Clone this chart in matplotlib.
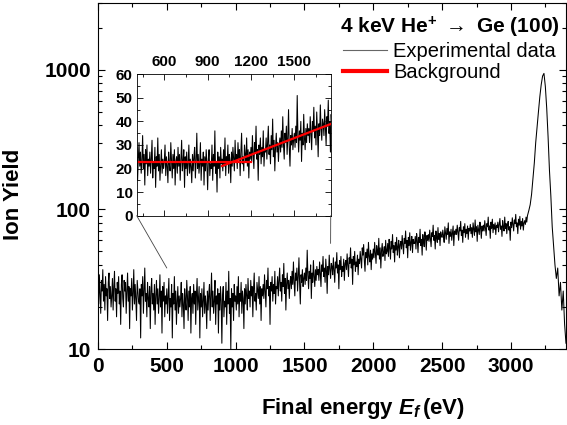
import numpy as np
import matplotlib
matplotlib.use('Agg')
import matplotlib.pyplot as plt
from matplotlib.ticker import MultipleLocator, FixedLocator, NullFormatter, FuncFormatter, LogLocator
from matplotlib.lines import Line2D
from matplotlib.patches import ConnectionPatch

plt.rcParams['font.family'] = ['Liberation Sans', 'DejaVu Sans']
plt.rcParams['font.weight'] = 'bold'
plt.rcParams['axes.labelweight'] = 'bold'
plt.rcParams['mathtext.fontset'] = 'custom'
plt.rcParams['mathtext.rm'] = 'Liberation Sans:bold'
plt.rcParams['mathtext.bf'] = 'Liberation Sans:bold'
plt.rcParams['mathtext.it'] = 'Liberation Sans:italic:bold'

# ── Data ──────────────────────────────────────────────────────────────────────
# flat/rising part, 5 eV steps from 0 to 3120 eV (one row = 100 eV)
noise_energy = np.arange(0, 3125, 5)
noise_counts = [
    28, 21, 34, 25, 18, 31, 26, 37, 22, 29, 19, 33, 24, 27, 16, 30, 35, 23, 28, 20,
    24, 32, 19, 28, 36, 22, 27, 17, 30, 25, 33, 21, 26, 15, 29, 34, 23, 20, 31, 26,
    30, 18, 26, 35, 22, 28, 14, 27, 24, 32, 19, 25, 37, 21, 29, 23, 16, 31, 26, 22,
    21, 27, 12, 29, 24, 33, 18, 26, 38, 22, 25, 17, 30, 23, 20, 28, 14, 26, 32, 21,
    25, 19, 29, 15, 24, 31, 21, 27, 18, 23, 34, 20, 26, 13, 28, 22, 30, 17, 24, 21,
    27, 18, 24, 32, 16, 23, 20, 29, 12, 25, 21, 33, 19, 26, 15, 22, 28, 18, 24, 20,
    23, 30, 17, 25, 21, 14, 27, 22, 19, 31, 24, 16, 26, 20, 28, 13, 23, 25, 18, 29,
    21, 26, 15, 24, 32, 19, 23, 28, 12, 25, 20, 27, 17, 22, 30, 18, 24, 21, 14, 26,
    19, 25, 29, 16, 23, 35, 20, 26, 18, 22, 31, 15, 24, 21, 27, 13, 25, 19, 28, 22,
    11, 24, 28, 17, 22, 20, 30, 15, 26, 21, 36, 18, 23, 10, 27, 20, 25, 16, 29, 22,
    24, 19, 28, 21, 33, 17, 25, 22, 30, 18, 26, 23, 14, 27, 21, 29, 24, 19, 32, 23,
    26, 20, 31, 24, 28, 17, 27, 35, 22, 25, 19, 30, 26, 23, 33, 21, 28, 16, 27, 24,
    29, 23, 34, 26, 20, 31, 27, 38, 24, 28, 15, 30, 26, 33, 22, 29, 25, 36, 21, 28,
    27, 33, 24, 31, 38, 26, 30, 22, 34, 28, 41, 25, 32, 19, 29, 35, 27, 31, 23, 30,
    33, 27, 36, 29, 42, 30, 24, 35, 31, 38, 26, 33, 45, 29, 21, 34, 30, 37, 28, 32,
    35, 29, 38, 31, 51, 34, 27, 36, 32, 40, 23, 35, 30, 43, 33, 28, 37, 31, 39, 34,
    37, 31, 42, 35, 28, 40, 36, 46, 33, 38, 30, 44, 36, 25, 39, 34, 47, 37, 32, 41,
    39, 34, 45, 37, 30, 42, 38, 49, 35, 40, 27, 43, 37, 46, 33, 39, 36, 44, 31, 41,
    43, 37, 48, 40, 33, 45, 41, 53, 38, 44, 29, 46, 40, 50, 36, 42, 39, 47, 34, 44,
    41, 50, 44, 38, 53, 47, 56, 43, 36, 49, 45, 52, 40, 58, 46, 42, 51, 37, 48, 44,
    52, 45, 58, 49, 41, 55, 50, 47, 62, 44, 53, 38, 51, 57, 46, 49, 54, 43, 60, 48,
    50, 57, 46, 61, 53, 44, 59, 52, 66, 49, 55, 42, 58, 51, 63, 47, 54, 60, 45, 56,
    59, 52, 65, 56, 48, 62, 57, 70, 53, 60, 45, 63, 55, 68, 51, 58, 64, 49, 61, 57,
    57, 64, 52, 67, 60, 49, 63, 58, 72, 55, 61, 47, 66, 59, 54, 69, 62, 51, 65, 60,
    66, 59, 71, 62, 54, 68, 64, 77, 60, 65, 52, 70, 63, 58, 74, 61, 67, 55, 69, 64,
    63, 71, 65, 58, 75, 68, 61, 73, 66, 80, 57, 69, 64, 72, 60, 67, 76, 55, 70, 66,
    72, 66, 77, 69, 60, 74, 70, 82, 65, 71, 58, 75, 68, 79, 63, 72, 67, 76, 61, 73,
    70, 78, 67, 74, 63, 80, 72, 65, 84, 69, 75, 59, 77, 71, 66, 81, 73, 62, 76, 70,
    77, 70, 83, 74, 65, 79, 75, 88, 71, 76, 62, 81, 73, 85, 68, 78, 72, 80, 66, 77,
    74, 81, 69, 78, 86, 72, 76, 64, 83, 75, 70, 88, 73, 79, 67, 77, 82, 71, 75, 60,
    81, 74, 87, 78, 70, 84, 79, 92, 75, 80, 67, 85, 77, 89, 72, 82, 76, 86, 71, 80,
    83, 78, 88, 81, 90,
]
# elastic peak and tail, 10 eV steps from 3130 to 3400 eV
peak_energy = np.arange(3130, 3401, 10)
peak_counts = [
    98, 108, 128, 165, 215, 300, 390, 500, 640, 780,
    900, 940, 760, 530, 330, 190, 125, 75, 55, 40,
    32, 38, 24, 30, 19, 26, 15, 11,
]
energy = np.concatenate([noise_energy, peak_energy])
counts = noise_counts + peak_counts

# background segments in the inset
bg_flat_x = [409, 1200]
bg_flat_y = [22.8, 22.8]
bg_rise_x = [1000, 1752]
bg_rise_y = [21.1, 38.9]

inset_xlim = (409, 1752)
link_left = (500, 38)
link_right = (1690, 57)

# ── Plotting ──────────────────────────────────────────────────────────────────
fig = plt.figure(figsize=(5.67, 4.25), dpi=100)
ax = fig.add_axes([0.1728, 0.1788, 0.8254, 0.8141])

ax.plot(energy, counts, color='black', linewidth=0.75)
ax.set_yscale('log')
ax.set_xlim(0, 3400)
ax.set_ylim(10, 3000)
ax.xaxis.set_major_locator(MultipleLocator(500))
ax.xaxis.set_minor_locator(MultipleLocator(250))
ax.yaxis.set_major_locator(FixedLocator([10, 100, 1000]))
ax.yaxis.set_major_formatter(FuncFormatter(lambda v, p: f'{v:g}'))
ax.yaxis.set_minor_locator(LogLocator(base=10, subs=np.arange(2, 10)))
ax.yaxis.set_minor_formatter(NullFormatter())
ax.tick_params(which='both', direction='in', top=True, right=True, labelsize=15, width=0.8)
ax.tick_params(which='major', length=5)
ax.tick_params(which='minor', length=3)
ax.tick_params(axis='x', pad=6)
ax.tick_params(axis='y', pad=5)
for s in ax.spines.values():
    s.set_linewidth(0.8)

ax.set_xlabel('Final energy $E_f\\,$(eV)', fontsize=16, fontweight='bold')
ax.set_ylabel('Ion Yield', fontsize=16, fontweight='bold')
ax.xaxis.set_label_coords(0.566, -0.135)
ax.yaxis.set_label_coords(-0.158, 0.448)

# --- Inset ---
axins = fig.add_axes([0.2411, 0.4925, 0.3422, 0.3327])
axins.plot(energy, counts, color='black', linewidth=0.75)
axins.plot(bg_flat_x, bg_flat_y, color='red', linewidth=1.6)
axins.plot(bg_rise_x, bg_rise_y, color='red', linewidth=1.6)
axins.set_xlim(*inset_xlim)
axins.set_ylim(0, 60)
axins.xaxis.set_major_locator(MultipleLocator(300))
axins.xaxis.set_minor_locator(MultipleLocator(150))
axins.yaxis.set_major_locator(MultipleLocator(10))
axins.yaxis.set_minor_locator(MultipleLocator(5))
axins.tick_params(which='both', direction='in', top=True, right=True, bottom=True,
                  labeltop=True, labelbottom=False, labelsize=11, width=0.6)
axins.tick_params(which='major', length=4)
axins.tick_params(which='minor', length=2)
axins.tick_params(axis='y', pad=3)
axins.tick_params(axis='x', pad=4)
for s in axins.spines.values():
    s.set_linewidth(0.6)

for xyA, xyB in [((inset_xlim[0], 0), link_left), ((inset_xlim[1], 0), link_right)]:
    con = ConnectionPatch(xyA=xyA, coordsA=axins.transData, xyB=xyB, coordsB=ax.transData,
                          color='#444444', linewidth=0.6)
    fig.add_artist(con)

# --- Legend & title ---
handles = [Line2D([], [], color='#666666', linewidth=0.8),
           Line2D([], [], color='red', linewidth=3)]
ax.legend(handles, ['Experimental data', 'Background'], loc='upper left',
          bbox_to_anchor=(343 / 567, 1 - 42 / 425), bbox_transform=fig.transFigure,
          frameon=False, prop={'size': 14.5, 'weight': 'normal'},
          handlelength=2.2, handletextpad=0.3, labelspacing=0.1,
          borderpad=0, borderaxespad=0)

fig.text(560 / 567, 1 - 33.3 / 425, '4 keV He$^{+}$ $\\rightarrow$ Ge (100)',
         ha='right', va='baseline', fontsize=15, fontweight='bold')

plt.savefig('out.png', dpi=100)
